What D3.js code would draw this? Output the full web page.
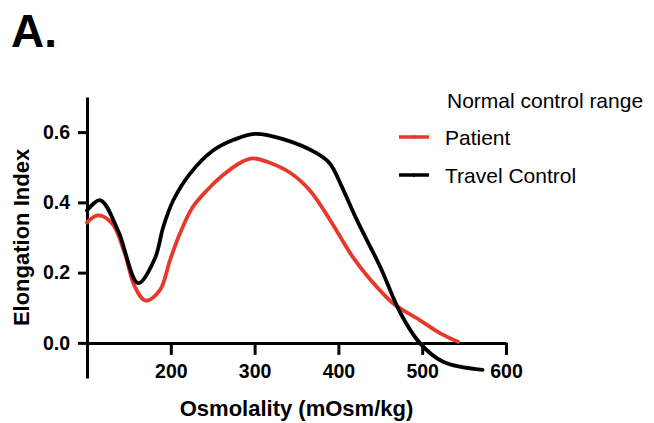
<!DOCTYPE html>
<html lang="en">
<head>
<meta charset="utf-8">
<title>Elongation Index vs Osmolality</title>
<script src="https://d3js.org/d3.v7.min.js"></script>
<style>
  body { margin: 0; background: #fff; }
  text { font-family: "Liberation Sans", Arial, Helvetica, sans-serif; }
  .axis path, .axis line { stroke: #000; stroke-width: 3; }
  .axis text { font-size: 19.5px; font-weight: bold; fill: #000; }
</style>
</head>
<body>
<script>
// data
var osmPatient = [100, 113, 130, 145, 157, 170, 187, 199, 211, 226, 243, 262, 283, 298, 318, 342, 366, 390, 417, 440, 465, 497, 521, 543];
var eiPatient  = [0.343, 0.363, 0.34, 0.255, 0.16, 0.12, 0.15, 0.235, 0.312, 0.386, 0.434, 0.477, 0.513, 0.525, 0.513, 0.485, 0.434, 0.35, 0.245, 0.175, 0.113, 0.065, 0.028, 0.003];

var osmTravel = [100, 116, 137, 161, 181, 191, 203, 223, 250, 275, 300, 334, 374, 390, 405, 422, 450, 474, 497, 525, 572];
var eiTravel  = [0.377, 0.406, 0.32, 0.17, 0.24, 0.33, 0.406, 0.482, 0.547, 0.578, 0.595, 0.58, 0.54, 0.51, 0.44, 0.35, 0.216, 0.085, 0.0, -0.054, -0.077];

var xTicks = [200, 300, 400, 500, 600];
var yTicks = [0, 0.2, 0.4, 0.6];

var seriesNames = ["Patient", "Travel Control"];
var seriesColors = ["#e8382c", "#000000"];

const w = 654, h = 423;

var svg = d3.select("body").append("svg")
            .attr("width", w)
            .attr("height", h);

var xScale = d3.scaleLinear().domain([100, 600]).range([87, 506]);
var yScale = d3.scaleLinear().domain([-0.1, 0.7]).range([378, 97]);

// panel letter
svg.append("text")
   .attr("x", 11)
   .attr("y", 47)
   .style("font-size", "46px")
   .style("font-weight", "bold")
   .text("A.");

// axes
var xAxis = d3.axisBottom(xScale)
              .tickValues(xTicks)
              .tickSize(12)
              .tickSizeOuter(0)
              .tickPadding(9)
              .tickFormat(d3.format("d"));

var yAxis = d3.axisLeft(yScale)
              .tickValues(yTicks)
              .tickSize(9)
              .tickSizeOuter(0)
              .tickPadding(8)
              .tickFormat(d3.format(".1f"));

svg.append("g")
   .attr("class", "axis")
   .attr("transform", "translate(0," + yScale(0) + ")")
   .call(xAxis);

svg.append("g")
   .attr("class", "axis")
   .attr("transform", "translate(" + xScale(100) + ",0)")
   .call(yAxis);

// axis titles
svg.append("text")
   .attr("x", (xScale(100) + xScale(600)) / 2)
   .attr("y", 416)
   .style("text-anchor", "middle")
   .style("font-size", "22px")
   .style("font-weight", "bold")
   .text("Osmolality (mOsm/kg)");

svg.append("text")
   .attr("transform", "translate(29," + (yScale(-0.1) + yScale(0.7)) / 2 + ") rotate(-90)")
   .style("text-anchor", "middle")
   .style("font-size", "22px")
   .style("font-weight", "bold")
   .text("Elongation Index");

// curves
var line = d3.line()
             .x(d => xScale(d[0]))
             .y(d => yScale(d[1]))
             .curve(d3.curveCatmullRom.alpha(0.5));

var series = [
  d3.zip(osmPatient, eiPatient),
  d3.zip(osmTravel, eiTravel)
];

svg.selectAll("path.curve")
   .data(series)
   .enter()
   .append("path")
   .attr("class", "curve")
   .attr("fill", "none")
   .attr("stroke", (d, i) => seriesColors[i])
   .attr("stroke-width", 3.8)
   .attr("stroke-linejoin", "round")
   .attr("stroke-linecap", "round")
   .attr("d", line);

// legend
svg.append("text")
   .attr("x", 447)
   .attr("y", 108)
   .style("font-size", "21px")
   .text("Normal control range");

var legendY = [137, 175];
seriesNames.forEach((name, i) => {
  var g = svg.append("g").attr("transform", "translate(399," + legendY[i] + ")");
  g.append("line")
   .attr("x1", 0).attr("x2", 30)
   .attr("stroke", seriesColors[i])
   .attr("stroke-width", 3.5);
  g.append("line")
   .attr("x1", 15).attr("x2", 15)
   .attr("y1", -2).attr("y2", 2)
   .attr("stroke", seriesColors[i])
   .attr("stroke-width", 1.5);
  g.append("text")
   .attr("x", 46)
   .attr("y", 8)
   .style("font-size", "21px")
   .text(name);
});
</script>
</body>
</html>
